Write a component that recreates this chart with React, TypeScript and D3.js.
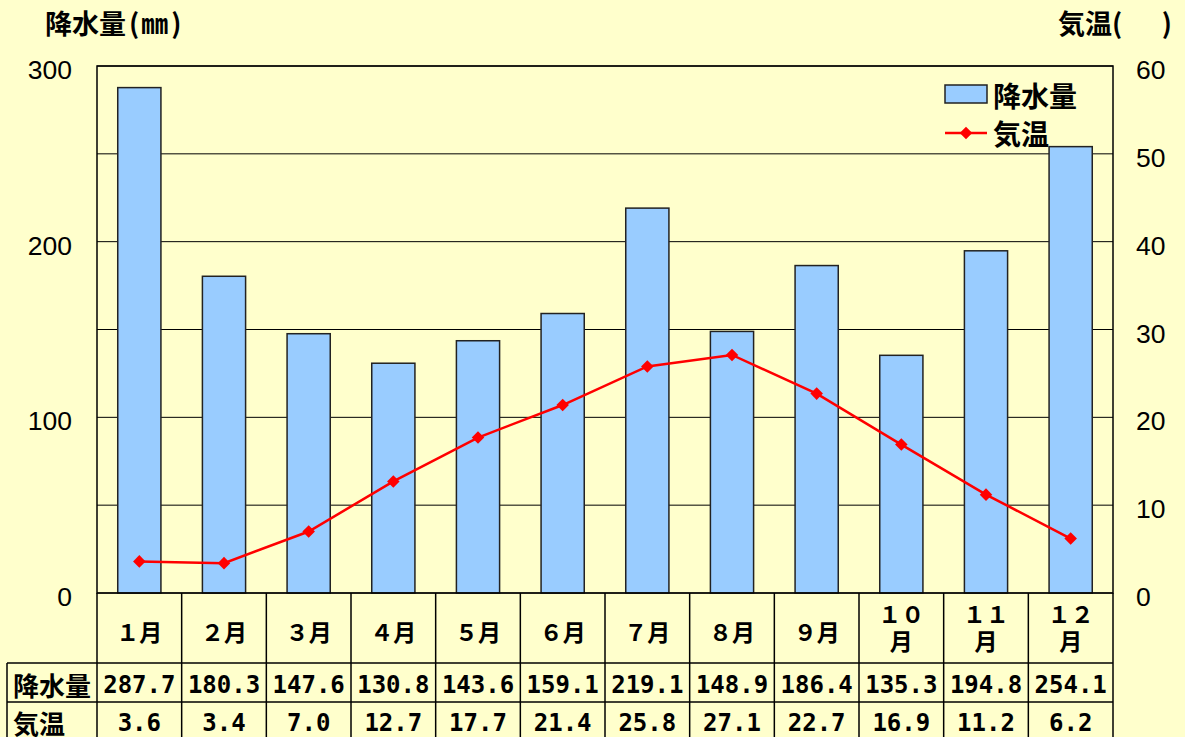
import React, { useEffect } from "react";
import * as d3 from "d3";

// 月別の降水量と気温
const months = ["１月", "２月", "３月", "４月", "５月", "６月", "７月", "８月", "９月", "１０月", "１１月", "１２月"];
const rainfall = [287.7, 180.3, 147.6, 130.8, 143.6, 159.1, 219.1, 148.9, 186.4, 135.3, 194.8, 254.1];
const temperature = [3.6, 3.4, 7.0, 12.7, 17.7, 21.4, 25.8, 27.1, 22.7, 16.9, 11.2, 6.2];
const rainTicks = [0, 100, 200, 300];
const tempTicks = [0, 10, 20, 30, 40, 50, 60];
const gridTicks = [0, 50, 100, 150, 200, 250, 300];
const rowLabels = ["降水量", "気温"];

const W = 1185;
const H = 737;
const left = 97;
const right = 1113;
const top = 66;
const bottom = 593;
const headerBottom = 663;
const rowLine = 702;
const labelLeft = 7;

const cjk = "'Noto Sans CJK JP', sans-serif";
const num = "'Liberation Sans', Arial, sans-serif";
const mono = "'DejaVu Sans Mono', monospace";

export default function App() {
  useEffect(() => {
    document.body.style.margin = "0";
  }, []);

  const x = d3.scaleBand<string>().domain(months).range([left, right]);
  const yRain = d3.scaleLinear().domain([0, 300]).range([bottom, top]);
  const yTemp = d3.scaleLinear().domain([0, 60]).range([bottom, top]);
  const cx = (i: number) => (x(months[i]) as number) + x.bandwidth() / 2;
  const barW = x.bandwidth() * 0.51;

  const line = d3
    .line<number>()
    .x((_, i) => cx(i))
    .y((d) => yTemp(d));
  const diamond = d3.symbol(d3.symbolDiamond2, 100)() as string;

  const rows = [rainfall, temperature];

  return (
    <svg width={W} height={H} style={{ display: "block", position: "absolute", left: 0, top: 0 }}>
      <rect x={0} y={0} width={W} height={H} fill="#FFFFCC" />

      {/* axis titles */}
      <text x={45} y={22} dominantBaseline="central" fontFamily={cjk} fontWeight="bold" fontSize={27}>
        降水量<tspan dx={3}>(</tspan><tspan dx={2}>㎜</tspan><tspan dx={3}>)</tspan>
      </text>
      <text x={1058} y={22} dominantBaseline="central" fontFamily={cjk} fontWeight="bold" fontSize={27}>
        気温(
      </text>
      <text x={1172} y={22} dominantBaseline="central" textAnchor="end" fontFamily={cjk} fontWeight="bold" fontSize={27}>
        )
      </text>

      {/* grid */}
      {gridTicks.map((t) => (
        <line key={t} x1={left} x2={right} y1={yRain(t)} y2={yRain(t)} stroke="#000" strokeWidth={1} />
      ))}

      {/* tick labels */}
      {rainTicks.map((t) => (
        <text key={t} x={72} y={yRain(t) + 4} dominantBaseline="central" textAnchor="end" fontFamily={num} fontSize={26.5}>
          {t}
        </text>
      ))}
      {tempTicks.map((t) => (
        <text key={t} x={1136} y={yTemp(t) + 4} dominantBaseline="central" fontFamily={num} fontSize={26.5}>
          {t}
        </text>
      ))}

      {/* bars */}
      {rainfall.map((v, i) => (
        <rect
          key={i}
          x={cx(i) - barW / 2}
          y={yRain(v)}
          width={barW}
          height={bottom - yRain(v)}
          fill="#99CCFF"
          stroke="#222"
          strokeWidth={1.5}
        />
      ))}

      {/* temperature line */}
      <path d={line(temperature) as string} fill="none" stroke="#FF0000" strokeWidth={2.5} />
      {temperature.map((v, i) => (
        <path key={i} d={diamond} transform={`translate(${cx(i)},${yTemp(v)})`} fill="#FF0000" />
      ))}

      {/* plot frame */}
      <rect x={left} y={top} width={right - left} height={bottom - top} fill="none" stroke="#000" strokeWidth={1.5} />

      {/* legend */}
      <rect x={945} y={85} width={42} height={18} fill="#99CCFF" stroke="#222" strokeWidth={1.5} />
      <text x={993} y={95} dominantBaseline="central" fontFamily={cjk} fontWeight="bold" fontSize={28}>
        降水量
      </text>
      <line x1={945} x2={987} y1={133} y2={133} stroke="#FF0000" strokeWidth={2.5} />
      <path d={diamond} transform="translate(966,133)" fill="#FF0000" />
      <text x={993} y={133} dominantBaseline="central" fontFamily={cjk} fontWeight="bold" fontSize={28}>
        気温
      </text>

      {/* data table */}
      <g stroke="#000" strokeWidth={1.5}>
        {months.map((m) => (
          <line key={m} x1={x(m)} x2={x(m)} y1={bottom} y2={H} />
        ))}
        <line x1={right} x2={right} y1={bottom} y2={H} />
        <line x1={labelLeft} x2={labelLeft} y1={headerBottom} y2={H} />
        <line x1={labelLeft} x2={right} y1={headerBottom} y2={headerBottom} />
        <line x1={labelLeft} x2={right} y1={rowLine} y2={rowLine} />
      </g>

      {months.map((m, i) => {
        const lines = m.length > 2 ? [m.slice(0, m.length - 1), m.slice(-1)] : [m];
        return lines.map((s, k) => (
          <text
            key={m + k}
            x={cx(i)}
            y={lines.length === 1 ? 631 : 613 + k * 27}
            dominantBaseline="central"
            textAnchor="middle"
            fontFamily={cjk}
            fontWeight="bold"
            fontSize={23}
          >
            {s}
          </text>
        ));
      })}

      {rowLabels.map((r, k) => (
        <text
          key={r}
          x={13}
          y={k === 0 ? 684 : 722}
          dominantBaseline="central"
          fontFamily={cjk}
          fontWeight="bold"
          fontSize={26}
        >
          {r}
        </text>
      ))}

      {rows.map((vals, k) =>
        vals.map((v, i) => (
          <text
            key={`${k}-${i}`}
            x={cx(i)}
            y={k === 0 ? 685 : 723}
            dominantBaseline="central"
            textAnchor="middle"
            fontFamily={mono}
            fontWeight="bold"
            fontSize={24}
          >
            {v.toFixed(1)}
          </text>
        ))
      )}
    </svg>
  );
}
